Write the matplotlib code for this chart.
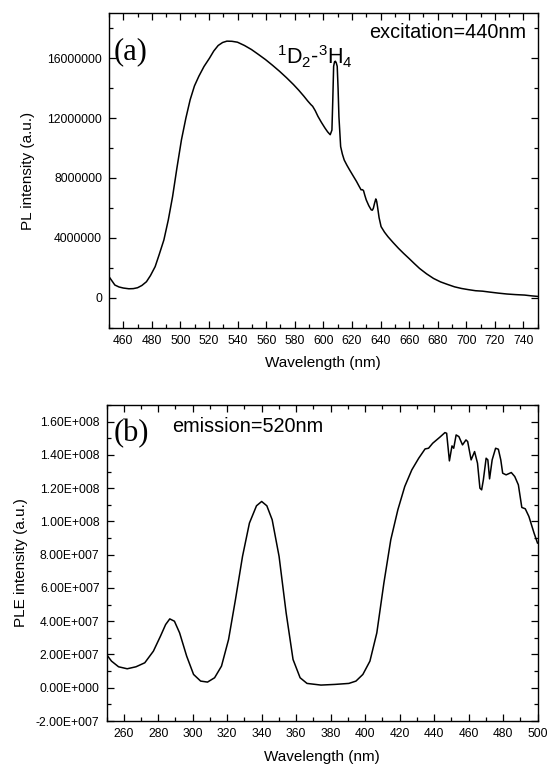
import matplotlib
matplotlib.use("Agg")
import matplotlib.pyplot as plt
from matplotlib.ticker import MultipleLocator, FuncFormatter, FixedLocator

plt.rcParams['font.family'] = ['Liberation Sans', 'DejaVu Sans']
plt.rcParams['mathtext.fontset'] = 'custom'
plt.rcParams['mathtext.rm'] = 'Liberation Sans'
plt.rcParams['mathtext.it'] = 'Liberation Sans:italic'

# ---- Panel (a): PL spectrum, excitation 440 nm ----
pl_wavelength = [450, 454.1, 457, 460, 463.9, 467, 470, 473, 476.2, 479, 482.3, 485, 488.4, 491.5,
                 494.5, 497.5, 500.7, 503.8, 506.8, 509.8, 512.9, 516.5, 520.3, 523.3, 526.4,
                 529.5, 532.5, 536, 539.9, 544.8, 549.7, 554.6, 559.5, 564.4, 569.3, 574.2, 579.1,
                 582.8, 586.4, 589, 591.3, 592.5, 594.3, 596.2, 598.6, 601.1, 603, 604.8, 606.0,
                 606.6, 607.2, 607.8, 608.4, 609.0, 609.7, 610.3, 610.9, 612.1, 613.3, 614.6, 616.5,
                 618.3, 620.8, 623.2, 625.0, 626.4, 627.3, 628.1, 629.0, 630.0, 631.8, 633.5,
                 634.3, 635.0, 635.8, 636.7, 637.3, 637.9, 639.0, 640.4, 642.8, 645.2, 648.9,
                 652.6, 656.2, 659.9, 663.6, 667.3, 672.2, 677.1, 682.0, 686.9, 691.8, 696.7,
                 701.6, 706.5, 711.4, 716.3, 722.4, 728.5, 734.6, 740.8, 745.4, 750]
pl_intensity = [1.41e6, 0.85e6, 0.72e6, 0.65e6, 0.60e6, 0.61e6, 0.67e6, 0.82e6, 1.07e6, 1.48e6,
                2.08e6, 2.85e6, 3.86e6, 5.20e6, 6.76e6, 8.65e6, 10.55e6, 12.0e6, 13.23e6, 14.15e6,
                14.8e6, 15.45e6, 16.0e6, 16.48e6, 16.85e6, 17.05e6, 17.14e6, 17.13e6, 17.07e6,
                16.85e6, 16.58e6, 16.25e6, 15.91e6, 15.53e6, 15.13e6, 14.70e6, 14.24e6, 13.86e6,
                13.46e6, 13.15e6, 12.9e6, 12.79e6, 12.5e6, 12.12e6, 11.72e6, 11.34e6, 11.08e6,
                10.89e6, 11.2e6, 13.2e6, 15.46e6, 15.75e6, 15.8e6, 15.7e6, 15.46e6, 14.0e6, 12.1e6,
                10.1e6, 9.6e6, 9.2e6, 8.85e6, 8.55e6, 8.15e6, 7.77e6, 7.45e6, 7.21e6, 7.22e6,
                7.16e6, 6.85e6, 6.54e6, 6.15e6, 5.87e6, 5.85e6, 5.98e6, 6.3e6, 6.6e6, 6.45e6,
                6.09e6, 5.35e6, 4.75e6, 4.38e6, 4.08e6, 3.68e6, 3.30e6, 2.96e6, 2.63e6, 2.29e6,
                1.96e6, 1.60e6, 1.29e6, 1.06e6, 0.89e6, 0.73e6, 0.62e6, 0.54e6, 0.47e6, 0.44e6,
                0.38e6, 0.31e6, 0.25e6, 0.21e6, 0.18e6, 0.13e6, 0.09e6]

# ---- Panel (b): PLE spectrum, emission 520 nm ----
ple_wavelength = [250, 252.9, 257.0, 262.0, 267.1, 272.2, 277.2, 281.3, 284.3, 286.7, 289.4,
                  292.4, 296.5, 300.5, 304.6, 308.6, 312.7, 316.7, 320.8, 324.8, 328.9, 332.9,
                  337.0, 340.0, 343.0, 346.1, 350.1, 354.2, 358.2, 362.3, 366.3, 374.4, 382.5,
                  390.6, 394.7, 398.7, 402.8, 406.8, 410.9, 414.9, 419.0, 423.0, 427.1, 431.1,
                  434.8, 436.8, 439.2, 443.3, 446.3, 447.3, 448.9, 450.4, 451.4, 452.8, 454.4,
                  456.5, 458.5, 459.5, 461.5, 463.5, 465.2, 466.6, 467.6, 468.6, 470.2, 471.2,
                  472.2, 473.7, 475.7, 477.3, 478.7, 479.8, 481.8, 484.8, 486.8, 488.9, 490.9,
                  492.9, 495.0, 498.0, 500]
ple_intensity = [2.0e7, 1.6e7, 1.26e7, 1.14e7, 1.26e7, 1.5e7, 2.2e7, 3.1e7, 3.8e7, 4.14e7, 4.0e7,
                 3.3e7, 1.9e7, 0.8e7, 0.4e7, 0.34e7, 0.6e7, 1.3e7, 2.9e7, 5.3e7, 7.9e7, 9.9e7,
                 10.94e7, 11.2e7, 10.94e7, 10.1e7, 7.9e7, 4.5e7, 1.7e7, 0.6e7, 0.26e7, 0.16e7,
                 0.2e7, 0.26e7, 0.4e7, 0.8e7, 1.6e7, 3.3e7, 6.3e7, 8.9e7, 10.7e7, 12.1e7, 13.1e7,
                 13.8e7, 14.36e7, 14.4e7, 14.7e7, 15.06e7, 15.34e7, 15.3e7, 13.64e7, 14.54e7,
                 14.4e7, 15.2e7, 15.1e7, 14.6e7, 14.9e7, 14.8e7, 13.7e7, 14.2e7, 13.5e7, 12.0e7,
                 11.9e7, 12.5e7, 13.8e7, 13.7e7, 12.56e7, 13.7e7, 14.4e7, 14.34e7, 13.7e7, 12.9e7,
                 12.8e7, 12.94e7, 12.7e7, 12.2e7, 10.84e7, 10.76e7, 10.3e7, 9.3e7, 8.7e7]

pl_yticks = [0, 4000000, 8000000, 12000000, 16000000]
ple_yticks = [-2e7, 0, 2e7, 4e7, 6e7, 8e7, 1e8, 1.2e8, 1.4e8, 1.6e8]

W, H = 547, 766
fig = plt.figure(figsize=(W / 100, H / 100), dpi=100)
ax1 = fig.add_axes([109 / W, 1 - 327.7 / H, 428.7 / W, 314.4 / H])
ax2 = fig.add_axes([106.5 / W, 1 - 721 / H, 431 / W, 316 / H])

for ax in (ax1, ax2):
    ax.tick_params(which='both', direction='in', top=True, right=True, labelsize=8.7, pad=5)
    ax.tick_params(which='major', length=5, width=0.9)
    ax.tick_params(which='minor', length=3, width=0.9)
    for s in ax.spines.values():
        s.set_linewidth(1.0)

ax1.plot(pl_wavelength, pl_intensity, color='black', lw=1.1)
ax1.set_xlim(450, 750)
ax1.set_ylim(-2e6, 19e6)
ax1.xaxis.set_major_locator(MultipleLocator(20))
ax1.xaxis.set_minor_locator(MultipleLocator(10))
ax1.yaxis.set_major_locator(FixedLocator(pl_yticks))
ax1.yaxis.set_minor_locator(MultipleLocator(2e6))
ax1.yaxis.set_major_formatter(FuncFormatter(lambda v, p: f"{int(round(v))}"))
ax1.set_xlabel('Wavelength (nm)', fontsize=11, labelpad=7)
ax1.set_ylabel('PL intensity (a.u.)', fontsize=11, labelpad=9)
ax1.text(0.010, 0.877, '(a)', transform=ax1.transAxes, fontsize=22,
         family=['Liberation Serif'], va='center', ha='left')
ax1.text(742, 17.7e6, 'excitation=440nm', fontsize=14.3, ha='right', va='center')
ax1.text(567.6, 15.6e6, r'$\mathregular{^1D_2}$-$\mathregular{^3H_4}$', fontsize=15.5,
         ha='left', va='baseline')


def sci_fmt(v, p):
    if abs(v) < 1e-9:
        return "0.00E+000"
    s = f"{v:.2E}"
    mant, exp = s.split('E')
    sign = exp[0]
    e = int(exp[1:])
    return f"{mant}E{sign}{e:03d}"


ax2.plot(ple_wavelength, ple_intensity, color='black', lw=1.1)
ax2.set_xlim(250, 500)
ax2.set_ylim(-2e7, 1.7e8)
ax2.xaxis.set_major_locator(MultipleLocator(20))
ax2.xaxis.set_minor_locator(MultipleLocator(10))
ax2.set_xticks([260, 280, 300, 320, 340, 360, 380, 400, 420, 440, 460, 480, 500])
ax2.yaxis.set_major_locator(FixedLocator(ple_yticks))
ax2.yaxis.set_minor_locator(MultipleLocator(1e7))
ax2.yaxis.set_major_formatter(FuncFormatter(sci_fmt))
ax2.set_xlabel('Wavelength (nm)', fontsize=11, labelpad=7)
ax2.set_ylabel('PLE intensity (a.u.)', fontsize=11, labelpad=6)
ax2.text(0.016, 0.908, '(b)', transform=ax2.transAxes, fontsize=22,
         family=['Liberation Serif'], va='center', ha='left')
ax2.text(288.3, 1.57e8, 'emission=520nm', fontsize=14.3, ha='left', va='center')

fig.savefig('out.png', dpi=100)
